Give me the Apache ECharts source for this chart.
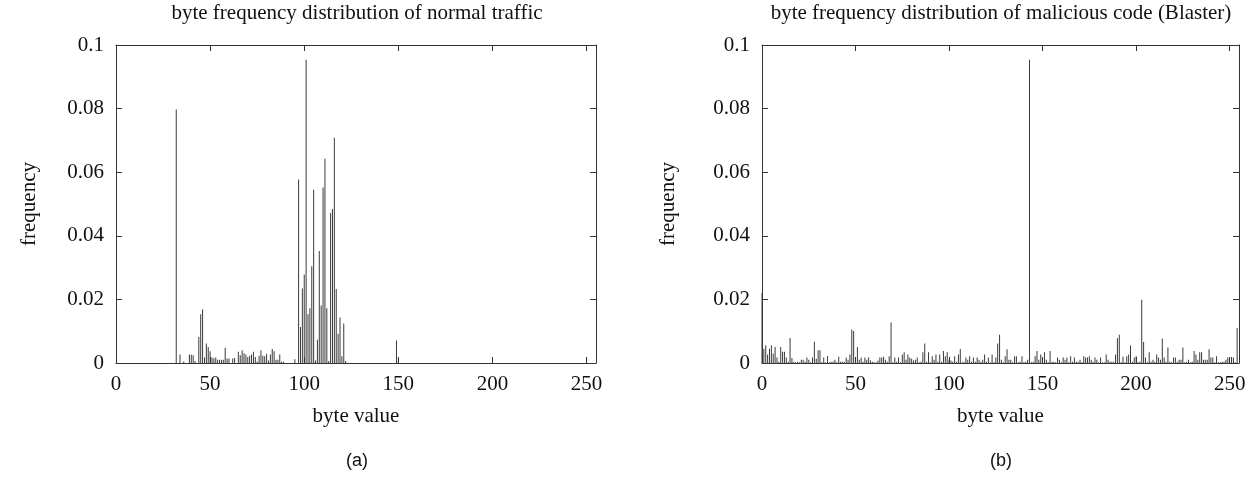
<!DOCTYPE html>
<html>
<head>
<meta charset="utf-8">
<script src="https://cdn.jsdelivr.net/npm/echarts@6/dist/echarts.min.js"></script>
<style>
  html, body { margin: 0; padding: 0; background: #fff; }
  #main { width: 1253px; height: 488px; }
</style>
</head>
<body>
<div id="main"></div>
<script>
// normal traffic: byte values that occur, and their frequency
let normalBytes = [32, 34, 36, 39, 40, 41, 42, 44, 45, 46, 47, 48, 49, 50, 51, 52, 53, 54, 55, 56, 57, 58,
    59, 60, 62, 63, 65, 66, 67, 68, 69, 70, 71, 72, 73, 74, 75, 76, 77, 78, 79, 80, 81, 82, 83, 84, 85, 86,
    87, 88, 89, 95, 97, 98, 99, 100, 101, 102, 103, 104, 105, 106, 107, 108, 109, 110, 111, 112, 113, 114,
    115, 116, 117, 118, 119, 120, 121, 122, 149, 150];
let normalFreq = [0.0797, 0.0027, 0.0005, 0.0027, 0.0026, 0.0024, 0.0006, 0.0082, 0.0153, 0.0168, 0.0017,
    0.0061, 0.0050, 0.0037, 0.0017, 0.0015, 0.0017, 0.0010, 0.0010, 0.0010, 0.0010, 0.0048,
    0.0014, 0.0014, 0.0014, 0.0016, 0.0035, 0.0024, 0.0040, 0.0031, 0.0027, 0.0019, 0.0023, 0.0027, 0.0035,
    0.0019, 0.0005, 0.0023, 0.0040, 0.0023, 0.0021, 0.0029, 0.0008, 0.0027, 0.0044, 0.0037, 0.0010, 0.0010,
    0.0027, 0.0004, 0.0004, 0.0012, 0.0577, 0.0113, 0.0234, 0.0278, 0.0954, 0.0153, 0.0172, 0.0304, 0.0545,
    0.0008, 0.0073, 0.0352, 0.0181, 0.0552, 0.0642, 0.0172, 0.0006, 0.0472,
    0.0484, 0.0708, 0.0233, 0.0092, 0.0143, 0.0021, 0.0124, 0.0006, 0.0071, 0.0015];

// blaster: frequency of every byte value 0..255
let blasterFreq = [
    0.0220, 0.0045, 0.0056, 0.0027, 0.0045, 0.0056, 0.0030, 0.0050, 0.0017, 0.0004, 0.0050, 0.0035, 0.0035, 0.0017, 0.0004, 0.0079,
    0.0016, 0.0004, 0.0002, 0.0004, 0.0002, 0.0010, 0.0010, 0.0004, 0.0017, 0.0010, 0.0002, 0.0017, 0.0067, 0.0013, 0.0040, 0.0040,
    0.0002, 0.0017, 0.0002, 0.0022, 0.0002, 0.0004, 0.0005, 0.0010, 0.0002, 0.0020, 0.0004, 0.0004, 0.0004, 0.0017, 0.0010, 0.0027,
    0.0105, 0.0101, 0.0017, 0.0050, 0.0010, 0.0017, 0.0004, 0.0017, 0.0010, 0.0017, 0.0008, 0.0004, 0.0002, 0.0002, 0.0008, 0.0017,
    0.0017, 0.0020, 0.0010, 0.0004, 0.0021, 0.0127, 0.0002, 0.0017, 0.0004, 0.0017, 0.0002, 0.0027, 0.0034, 0.0010, 0.0027, 0.0017,
    0.0013, 0.0008, 0.0010, 0.0017, 0.0002, 0.0004, 0.0034, 0.0061, 0.0004, 0.0034, 0.0002, 0.0021, 0.0010, 0.0027, 0.0004, 0.0027,
    0.0004, 0.0038, 0.0021, 0.0034, 0.0010, 0.0008, 0.0004, 0.0021, 0.0004, 0.0027, 0.0044, 0.0002, 0.0004, 0.0017, 0.0010, 0.0021,
    0.0004, 0.0017, 0.0004, 0.0017, 0.0010, 0.0004, 0.0010, 0.0027, 0.0004, 0.0017, 0.0002, 0.0027, 0.0002, 0.0017, 0.0061, 0.0089,
    0.0010, 0.0002, 0.0021, 0.0043, 0.0010, 0.0010, 0.0002, 0.0021, 0.0021, 0.0002, 0.0004, 0.0021, 0.0002, 0.0004, 0.0010, 0.0954,
    0.0002, 0.0004, 0.0021, 0.0038, 0.0010, 0.0027, 0.0004, 0.0034, 0.0010, 0.0002, 0.0038, 0.0004, 0.0004, 0.0002, 0.0017, 0.0010,
    0.0002, 0.0017, 0.0010, 0.0017, 0.0002, 0.0021, 0.0004, 0.0017, 0.0004, 0.0004, 0.0010, 0.0002, 0.0021, 0.0017, 0.0017, 0.0021,
    0.0010, 0.0004, 0.0017, 0.0010, 0.0002, 0.0017, 0.0002, 0.0002, 0.0027, 0.0010, 0.0004, 0.0004, 0.0004, 0.0027, 0.0078, 0.0089,
    0.0002, 0.0020, 0.0002, 0.0021, 0.0027, 0.0055, 0.0004, 0.0017, 0.0021, 0.0002, 0.0004, 0.0199, 0.0066, 0.0017, 0.0002, 0.0034,
    0.0004, 0.0010, 0.0004, 0.0027, 0.0017, 0.0010, 0.0077, 0.0017, 0.0004, 0.0049, 0.0004, 0.0002, 0.0017, 0.0017, 0.0004, 0.0010,
    0.0010, 0.0049, 0.0002, 0.0004, 0.0010, 0.0002, 0.0004, 0.0038, 0.0027, 0.0010, 0.0034, 0.0034, 0.0010, 0.0010, 0.0010, 0.0043,
    0.0017, 0.0017, 0.0002, 0.0021, 0.0002, 0.0002, 0.0004, 0.0004, 0.0010, 0.0017, 0.0004, 0.0019, 0.0017, 0.0002, 0.0110, 0
];

let titles = ['byte frequency distribution of normal traffic',
    'byte frequency distribution of malicious code (Blaster)'];
let subLabels = ['(a)', '(b)'];
let xTicks = [0, 50, 100, 150, 200, 250];

let serif = '"Liberation Serif", "DejaVu Serif", serif';
let axisColor = '#333';

let grids = [
    { left: 116, top: 45, width: 480, height: 318 },
    { left: 762, top: 45, width: 477, height: 318 }
];

function xAxisFor(gi, pos) {
    return {
        type: 'value', gridIndex: gi, position: pos,
        min: 0, max: 255, interval: 50,
        name: pos === 'bottom' ? 'byte value' : '',
        nameLocation: 'middle', nameGap: 43,
        nameTextStyle: { fontFamily: serif, fontSize: 21, color: '#111' },
        axisLine: { show: true, onZero: false, lineStyle: { color: axisColor, width: 1 } },
        axisTick: { show: true, inside: true, length: 6, lineStyle: { color: axisColor } },
        axisLabel: {
            show: pos === 'bottom', margin: 11,
            fontFamily: serif, fontSize: 21, color: '#111',
            formatter: function (v) { return xTicks.indexOf(v) >= 0 ? String(v) : ''; }
        },
        splitLine: { show: false }
    };
}

function yAxisFor(gi, pos, gap) {
    return {
        type: 'value', gridIndex: gi, position: pos,
        min: 0, max: 0.1, interval: 0.02,
        name: pos === 'left' ? 'frequency' : '',
        nameLocation: 'middle', nameGap: gap,
        nameTextStyle: { fontFamily: serif, fontSize: 21, color: '#111' },
        axisLine: { show: true, onZero: false, lineStyle: { color: axisColor, width: 1 } },
        axisTick: { show: true, inside: true, length: 6, lineStyle: { color: axisColor } },
        axisLabel: {
            show: pos === 'left', margin: 12,
            fontFamily: serif, fontSize: 21, color: '#111',
            formatter: function (v) { return v === 0 ? '0' : String(+v.toFixed(2)); }
        },
        splitLine: { show: false }
    };
}

let normalData = normalBytes.map(function (b, i) { return [b, normalFreq[i]]; });
let blasterData = blasterFreq.map(function (f, b) { return [b, f]; });

let myChart = echarts.init(document.getElementById('main'));
let option = {
    animation: false,
    backgroundColor: '#fff',
    grid: grids,
    xAxis: [xAxisFor(0, 'bottom'), xAxisFor(0, 'top'), xAxisFor(1, 'bottom'), xAxisFor(1, 'top')],
    yAxis: [yAxisFor(0, 'left', 76), yAxisFor(0, 'right', 0), yAxisFor(1, 'left', 83), yAxisFor(1, 'right', 0)],
    graphic: [
        { type: 'text', x: 357, y: 3, style: { text: titles[0], font: '21px ' + serif, fill: '#111', textAlign: 'center' } },
        { type: 'text', x: 1001, y: 3, style: { text: titles[1], font: '21px ' + serif, fill: '#111', textAlign: 'center' } },
        { type: 'text', x: 357, y: 452, style: { text: subLabels[0], font: '18px "Liberation Sans", Arial, sans-serif', fill: '#111', textAlign: 'center' } },
        { type: 'text', x: 1001, y: 452, style: { text: subLabels[1], font: '18px "Liberation Sans", Arial, sans-serif', fill: '#111', textAlign: 'center' } }
    ],
    series: [
        {
            type: 'bar', xAxisIndex: 0, yAxisIndex: 0,
            data: normalData, barWidth: 1,
            itemStyle: { color: '#3a3a3a' }
        },
        {
            type: 'bar', xAxisIndex: 2, yAxisIndex: 2,
            data: blasterData, barWidth: 1,
            itemStyle: { color: '#3a3a3a' }
        }
    ]
};
myChart.setOption(option);
</script>
</body>
</html>
